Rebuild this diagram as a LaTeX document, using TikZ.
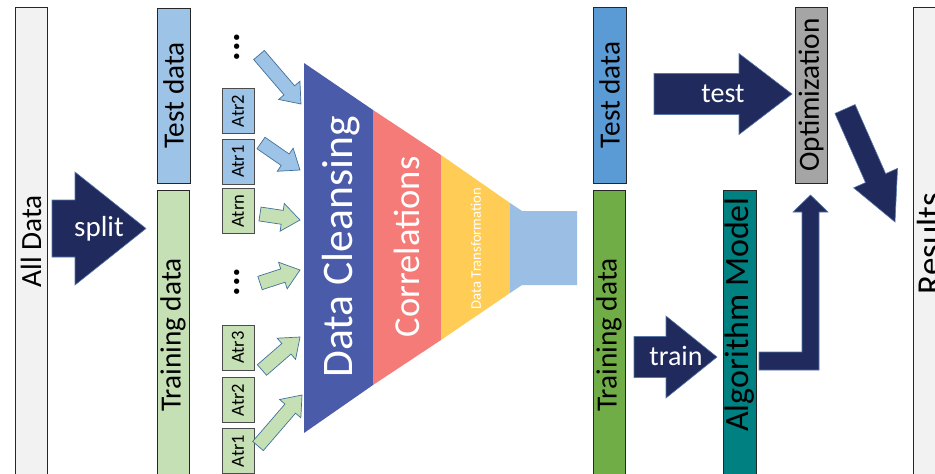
\documentclass[tikz,border=0pt]{standalone}
\usepackage{fontspec}
\setmainfont{Carlito}
\usetikzlibrary{calc}

\definecolor{navyblue}{HTML}{202A5C}
\definecolor{navyedge}{HTML}{5577AA}
\definecolor{paleblue}{HTML}{9DC3E6}
\definecolor{palegreen}{HTML}{C5E0B4}
\definecolor{arrowedge}{HTML}{41719C}
\definecolor{boxgray}{HTML}{F2F2F2}
\definecolor{midblue}{HTML}{5B9BD5}
\definecolor{grassgreen}{HTML}{70AD47}
\definecolor{tealbox}{HTML}{008080}
\definecolor{optgray}{HTML}{A5A5A5}
\definecolor{cleanse}{HTML}{4A5BA9}
\definecolor{correl}{HTML}{F47B77}
\definecolor{transf}{HTML}{FFCC55}
\definecolor{neckblue}{HTML}{9BBFE4}

% block arrow: style, tail, tip, half shaft width, half head width, head length
\newcommand\blockarr[6]{%
  \coordinate (ba-n) at ($(#3)!#6!(#2)$);
  \draw[#1] ($(#2)!#4!90:(#3)$) -- ($(ba-n)!#4!90:(#3)$) -- ($(ba-n)!#5!90:(#3)$)
    -- (#3) -- ($(ba-n)!#5!-90:(#3)$) -- ($(ba-n)!#4!-90:(#3)$)
    -- ($(#2)!#4!-90:(#3)$) -- cycle;}

\begin{document}
\begin{tikzpicture}[x=1pt,y=-1pt,
  bar/.style={draw=black!85, line width=0.8pt, rotate=90, inner sep=0pt,
    font=\fontsize{29.3}{30}\selectfont, text=black},
  attr/.style={draw=black!70, line width=0.7pt, rotate=90, inner sep=0pt,
    minimum width=45pt, minimum height=32pt, font=\fontsize{18.5}{19}\selectfont},
  dots/.style={rotate=90, inner sep=0pt, font=\bfseries\fontsize{36}{36}\selectfont},
  navyarrow/.style={fill=navyblue, draw=navyedge, line width=0.6pt},
  blueflow/.style={fill=paleblue, draw=arrowedge, line width=0.7pt},
  greenflow/.style={fill=palegreen, draw=arrowedge, line width=0.7pt},
  arrowtext/.style={text=white, inner sep=0pt, font=\fontsize{#1}{#1}\selectfont},
  funneltext/.style={text=white, rotate=90, inner sep=0pt, font=\fontsize{#1}{#1}\selectfont}
]
\clip (0,0) rectangle (935,474);
\fill[white] (0,0) rectangle (935,474);

% input data
\node[bar, fill=boxgray, minimum width=469pt, minimum height=32pt] (alldata) at (31,241.5) {All Data};
\node[bar, fill=paleblue, minimum width=175pt, minimum height=33pt] (testL) at (173.5,95.5) {Test data};
\node[bar, fill=palegreen, minimum width=290pt, minimum height=32pt] (trainL) at (173,335) {Training data};

% split arrow
\coordinate (split-a) at (52,228.5);
\coordinate (split-b) at (146,228.5);
\blockarr{navyarrow}{split-a}{split-b}{28.5pt}{56.5pt}{71pt}
\node[arrowtext=29] (splitlbl) at (99,229) {split};

% attributes
\node[dots] (dotsT) at (237,47) {...};
\node[attr, fill=paleblue] (atrT2) at (238,111) {Atr2};
\node[attr, fill=paleblue] (atrT1) at (238,161.5) {Atr1};
\node[attr, fill=palegreen] (atrn) at (238,211) {Atrn};
\node[dots] (dotsB) at (237,282) {...};
\node[attr, fill=palegreen] (atr3) at (238,347.5) {Atr3};
\node[attr, fill=palegreen] (atr2) at (238,400) {Atr2};
\node[attr, fill=palegreen] (atr1) at (238,451) {Atr1};

% funnel
\fill[cleanse] (304,63) -- (373,110) -- (373,385) -- (304,433) -- cycle;
\fill[correl] (373,110) -- (441,155) -- (441,340) -- (373,385) -- cycle;
\fill[transf] (441,155) -- (510,203) -- (510,293) -- (441,340) -- cycle;
\fill[neckblue] (510,203) -- (522,211) -- (577,211) -- (577,285) -- (522,285) -- (510,293) -- cycle;
\node[funneltext=43.6] (cleanlbl) at (341,247) {Data Cleansing};
\node[funneltext=36.6] (corrlbl) at (407,247) {Correlations};
\node[funneltext=14.6] (translbl) at (476,248.5) {Data Transformation};

% attribute flows into the funnel
\coordinate (f1a) at (259,55);  \coordinate (f1b) at (301,104);
\coordinate (f2a) at (261,143); \coordinate (f2b) at (300,170);
\coordinate (f3a) at (260,214); \coordinate (f3b) at (300,220);
\coordinate (f4a) at (260,283); \coordinate (f4b) at (300,270);
\coordinate (f5a) at (262,370); \coordinate (f5b) at (300,337);
\coordinate (f6a) at (258,446); \coordinate (f6b) at (302,395);
\blockarr{blueflow}{f1a}{f1b}{7pt}{14pt}{18pt}
\blockarr{blueflow}{f2a}{f2b}{7pt}{14pt}{18pt}
\blockarr{greenflow}{f3a}{f3b}{7pt}{14pt}{18pt}
\blockarr{greenflow}{f4a}{f4b}{7pt}{14pt}{18pt}
\blockarr{greenflow}{f5a}{f5b}{7pt}{14pt}{18pt}
\blockarr{greenflow}{f6a}{f6b}{7pt}{14pt}{18pt}

% prepared data
\node[bar, fill=midblue, minimum width=176pt, minimum height=33pt] (testR) at (609.5,95) {Test data};
\node[bar, fill=grassgreen, minimum width=290pt, minimum height=32pt] (trainR) at (609,335) {Training data};

% model and optimisation
\node[bar, fill=tealbox, minimum width=290pt, minimum height=33pt] (algo) at (739.5,335) {};
\node[rotate=90, inner sep=0pt, font=\fontsize{34}{34}\selectfont] (algolbl) at (739.5,314.5) {Algorithm Model};
\node[bar, fill=optgray, minimum width=176pt, minimum height=32pt] (optim) at (811,95) {Optimization};
\node[bar, fill=boxgray, minimum width=473pt, minimum height=33pt, font=\fontsize{35}{35}\selectfont] (results) at (929.5,243.5) {Results};

% test and train arrows
\coordinate (test-a) at (654,94);
\coordinate (test-b) at (792,94);
\blockarr{navyarrow}{test-a}{test-b}{20.5pt}{40.5pt}{53pt}
\node[arrowtext=28] (testlbl) at (723,94) {test};
\coordinate (train-a) at (634,357);
\coordinate (train-b) at (717,357);
\blockarr{navyarrow}{train-a}{train-b}{20.5pt}{41pt}{51pt}
\node[arrowtext=28] (trainlbl) at (676,356) {train};

% optimisation to results
\coordinate (res-a) at (845,109);
\coordinate (res-b) at (895,222);
\blockarr{navyarrow}{res-a}{res-b}{11pt}{24pt}{48pt}

% model feeds optimisation
\draw[navyarrow] (759,352) -- (802,352) -- (802,212) -- (793,212) -- (810.5,195)
  -- (828,212) -- (819,212) -- (819,370) -- (759,370) -- cycle;
\end{tikzpicture}
\end{document}
